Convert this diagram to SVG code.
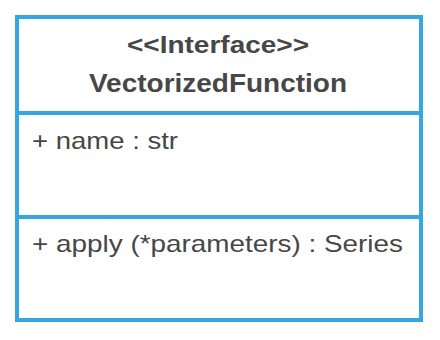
<svg xmlns="http://www.w3.org/2000/svg" width="440" height="340" viewBox="0 0 440 340">
  <style>
    .frame { fill: #ffffff; stroke: #35a7e0; stroke-width: 4; }
    .sep { stroke: #35a7e0; stroke-width: 4; }
    .title { font-family: "Liberation Sans", Arial, sans-serif; font-weight: bold; fill: #474747; text-anchor: middle; }
    .member { font-family: "Liberation Sans", Arial, sans-serif; fill: #474747; font-size: 24px; }
  </style>
  <rect width="440" height="340" fill="#ffffff"/>
  <g id="VectorizedFunction">
    <rect class="frame" x="17" y="17" width="404" height="303"/>
    <line class="sep" x1="17" y1="113" x2="421" y2="113"/>
    <line class="sep" x1="17" y1="217" x2="421" y2="217"/>
    <text class="title" x="218" y="53" font-size="24" textLength="182" lengthAdjust="spacingAndGlyphs">&lt;&lt;Interface&gt;&gt;</text>
    <text class="title" x="218" y="92" font-size="26" textLength="258" lengthAdjust="spacingAndGlyphs">VectorizedFunction</text>
    <text class="member" x="32" y="149" textLength="146" lengthAdjust="spacingAndGlyphs">+ name : str</text>
    <text class="member" x="32" y="252" textLength="371" lengthAdjust="spacingAndGlyphs">+ apply (*parameters) : Series</text>
  </g>
  <g id="connectors"/>
</svg>
